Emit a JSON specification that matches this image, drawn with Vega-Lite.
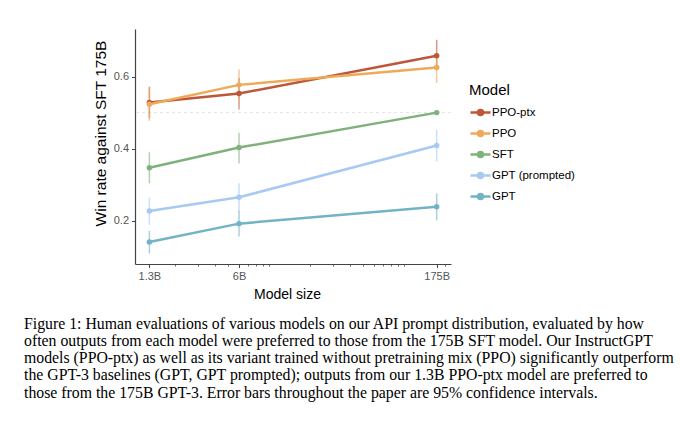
{
  "$schema": "https://vega.github.io/schema/vega-lite/v6.json",
  "autosize": {"type": "none"},
  "width": 316,
  "height": 235,
  "padding": {"left": 135, "top": 29, "right": 229, "bottom": 158},
  "background": "white",
  "config": {
    "font": "Liberation Sans",
    "view": {"stroke": null}
  },
  "title": {
    "text": [
      "Figure 1: Human evaluations of various models on our API prompt distribution, evaluated by how",
      "often outputs from each model were preferred to those from the 175B SFT model. Our InstructGPT",
      "models (PPO-ptx) as well as its variant trained without pretraining mix (PPO) significantly outperform",
      "the GPT-3 baselines (GPT, GPT prompted); outputs from our 1.3B PPO-ptx model are preferred to",
      "those from the 175B GPT-3. Error bars throughout the paper are 95% confidence intervals."
    ],
    "orient": "bottom",
    "anchor": "start",
    "frame": "group",
    "font": "Liberation Serif",
    "fontSize": 15.8,
    "fontWeight": "normal",
    "color": "#000000",
    "lineHeight": 17.3,
    "dx": -111,
    "offset": 15,
    "baseline": "top"
  },
  "data": {
    "values": [
      {"model": "PPO-ptx", "size": 1.3, "win": 0.528, "lo": 0.484, "hi": 0.572},
      {"model": "PPO-ptx", "size": 6, "win": 0.553, "lo": 0.509, "hi": 0.596},
      {"model": "PPO-ptx", "size": 175, "win": 0.658, "lo": 0.618, "hi": 0.702},
      {"model": "PPO", "size": 1.3, "win": 0.523, "lo": 0.477, "hi": 0.570},
      {"model": "PPO", "size": 6, "win": 0.577, "lo": 0.535, "hi": 0.620},
      {"model": "PPO", "size": 175, "win": 0.625, "lo": 0.582, "hi": 0.665},
      {"model": "SFT", "size": 1.3, "win": 0.347, "lo": 0.304, "hi": 0.390},
      {"model": "SFT", "size": 6, "win": 0.403, "lo": 0.359, "hi": 0.444},
      {"model": "SFT", "size": 175, "win": 0.500, "lo": 0.500, "hi": 0.500},
      {"model": "GPT (prompted)", "size": 1.3, "win": 0.227, "lo": 0.189, "hi": 0.264},
      {"model": "GPT (prompted)", "size": 6, "win": 0.265, "lo": 0.225, "hi": 0.304},
      {"model": "GPT (prompted)", "size": 175, "win": 0.409, "lo": 0.364, "hi": 0.452},
      {"model": "GPT", "size": 1.3, "win": 0.141, "lo": 0.109, "hi": 0.172},
      {"model": "GPT", "size": 6, "win": 0.192, "lo": 0.156, "hi": 0.228},
      {"model": "GPT", "size": 175, "win": 0.239, "lo": 0.201, "hi": 0.276}
    ]
  },
  "encoding": {
    "color": {
      "field": "model",
      "type": "nominal",
      "scale": {
        "domain": ["PPO-ptx", "PPO", "SFT", "GPT (prompted)", "GPT"],
        "range": ["#BD5739", "#EEAA58", "#7FB27B", "#A7C9F3", "#72B3C5"]
      },
      "legend": {
        "title": "Model",
        "orient": "none",
        "legendX": 334,
        "legendY": 54,
        "padding": 0,
        "titleFontSize": 15,
        "titleFontWeight": "normal",
        "titleColor": "#000000",
        "titlePadding": 3,
        "labelFontSize": 11.5,
        "labelColor": "#000000",
        "labelOffset": 0,
        "rowPadding": 2,
        "symbolType": "M-1,0H1M-0.25,0A0.25,0.25 0 1,1 0.25,0A0.25,0.25 0 1,1 -0.25,0Z",
        "symbolSize": 400,
        "symbolStrokeWidth": 2.5,
        "symbolOpacity": 1,
        "encode": {
          "symbols": {
            "update": {
              "fill": {"scale": "color", "field": "value"},
              "stroke": {"scale": "color", "field": "value"},
              "opacity": {"value": 1}
            }
          }
        }
      }
    }
  },
  "layer": [
    {
      "data": {"values": [{"ref": 0.5}]},
      "mark": {"type": "rule", "strokeDash": [3, 3], "strokeWidth": 1},
      "encoding": {
        "y": {"field": "ref", "type": "quantitative"},
        "color": {"value": "#e2e2e2"}
      }
    },
    {
      "mark": {"type": "rule", "strokeWidth": 1.5, "opacity": 0.6},
      "encoding": {
        "x": {
          "field": "size",
          "type": "quantitative",
          "scale": {"type": "log", "domain": [1.017, 223.4], "nice": false},
          "axis": {
            "values": [1.3, 2, 3, 4, 5, 6, 7, 8, 9, 10, 20, 30, 40, 50, 60, 70, 80, 90, 100, 175, 200],
            "labelExpr": "datum.value == 1.3 || datum.value == 6 || datum.value == 175 ? datum.value + 'B' : ''",
            "title": "Model size",
            "titleFontSize": 14,
            "titleFontWeight": "normal",
            "titleColor": "#000000",
            "titlePadding": 6,
            "titleX": 152,
            "labelFontSize": 11,
            "labelColor": "#555555",
            "labelPadding": 3,
            "labelOverlap": false,
            "tickSize": {"condition": {"test": "datum.value == 1.3 || datum.value == 6 || datum.value == 175", "value": 3.5}, "value": 2},
            "tickWidth": {"condition": {"test": "datum.value == 1.3 || datum.value == 6 || datum.value == 175", "value": 1}, "value": 0.8},
            "tickColor": "#444444",
            "domainColor": "#444444",
            "domainWidth": 1.2,
            "grid": false,
            "labelFlush": false
          }
        },
        "y": {
          "field": "lo",
          "type": "quantitative",
          "scale": {"domain": [0.08, 0.732], "nice": false, "zero": false},
          "axis": {
            "values": [0.2, 0.4, 0.6],
            "format": ".1f",
            "title": "Win rate against SFT 175B",
            "titleFontSize": 15.5,
            "titleFontWeight": "normal",
            "titleColor": "#000000",
            "titlePadding": 5,
            "titleY": 104,
            "labelFontSize": 11,
            "labelColor": "#555555",
            "labelPadding": 3,
            "tickSize": 3.5,
            "tickColor": "#444444",
            "domainColor": "#444444",
            "domainWidth": 1.2,
            "grid": false
          }
        },
        "y2": {"field": "hi"}
      }
    },
    {
      "mark": {"type": "line", "strokeWidth": 2.5},
      "encoding": {
        "x": {"field": "size", "type": "quantitative"},
        "y": {"field": "win", "type": "quantitative"}
      }
    },
    {
      "mark": {"type": "point", "filled": true, "size": 30, "opacity": 1},
      "encoding": {
        "x": {"field": "size", "type": "quantitative"},
        "y": {"field": "win", "type": "quantitative"}
      }
    }
  ]
}
